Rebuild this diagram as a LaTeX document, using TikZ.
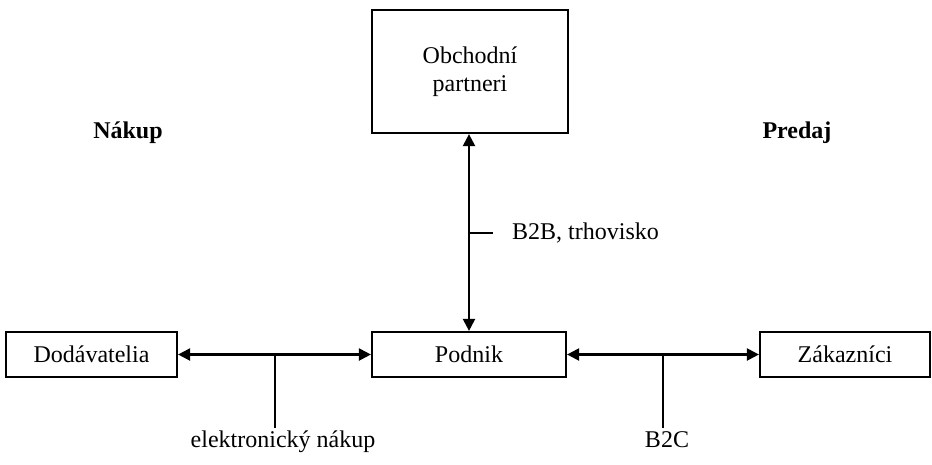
\documentclass[tikz,border=0pt]{standalone}
\usepackage{fontspec}
\setmainfont{Liberation Serif}
\usetikzlibrary{arrows.meta,calc}

\tikzset{
  box/.style={draw, line width=2.2pt, inner sep=0pt, align=center,
              font=\fontsize{24}{28}\selectfont},
  lbl/.style={inner sep=0pt, font=\fontsize{24}{28}\selectfont},
  head/.style={inner sep=0pt, font=\fontsize{24}{28}\selectfont\bfseries},
  link/.style={line width=2.2pt, {Triangle[length=12pt,width=12pt]}-{Triangle[length=12pt,width=12pt]}},
  tick/.style={line width=2pt}
}

\begin{document}
\begin{tikzpicture}[x=1pt,y=-1pt]
  \useasboundingbox (0,0) rectangle (932,464);

  % boxes
  \node[box, minimum width=196pt, minimum height=123pt] (obp) at (470,71.5) {Obchodní\\partneri};
  \node[box, minimum width=171pt, minimum height=45pt] (dod) at (91.5,354.5) {Dodávatelia};
  \node[box, minimum width=194pt, minimum height=45pt] (pod) at (469,354.5) {Podnik};
  \node[box, minimum width=170pt, minimum height=45pt] (zak) at (845,354.5) {Zákazníci};

  % side headings
  \node[head] (nak) at (128,133) {Nákup};
  \node[head] (pre) at (797,133) {Predaj};

  % connectors
  \draw[link] (dod.east) -- (pod.west) coordinate[midway] (m1);
  \draw[link] (pod.east) -- (zak.west) coordinate[midway] (m2);
  \draw[link] (pod.north -| 469,0) -- (obp.south -| 469,0) coordinate[midway] (m3);

  % labels with ticks
  \node[lbl, anchor=north] (en) at (283,431) {elektronický nákup};
  \node[lbl, anchor=north] (b2c) at (667,431) {B2C};
  \node[lbl, anchor=west] (b2b) at (512,233) {B2B, trhovisko};

  \coordinate (t1) at ($(m1)+(0,73)$);
  \coordinate (t2) at ($(m2)+(0,73)$);
  \coordinate (t3) at ($(m3)+(24,0)$);
  \draw[tick] (m1) -- (t1);
  \draw[tick] (m2) -- (t2);
  \draw[tick] (m3) -- (t3);
\end{tikzpicture}
\end{document}
